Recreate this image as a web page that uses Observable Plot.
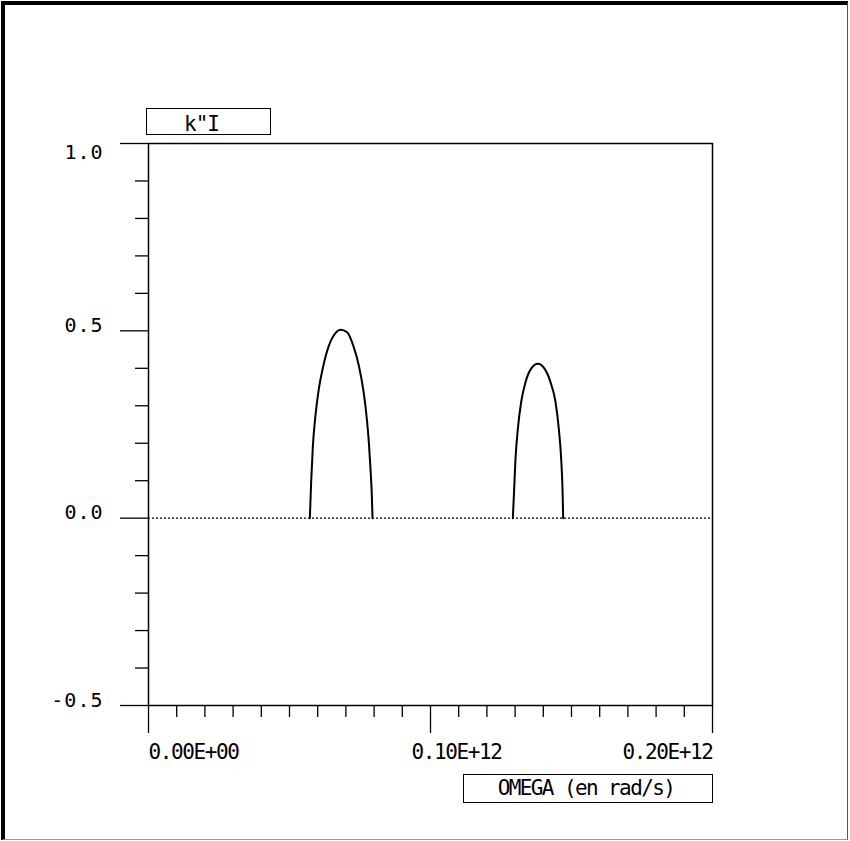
<!DOCTYPE html>
<html><head><meta charset="utf-8">
<script src="https://cdn.jsdelivr.net/npm/d3@7"></script>
<script src="https://cdn.jsdelivr.net/npm/@observablehq/plot@0.6"></script>
<style>
html,body{margin:0;padding:0;background:#fff;}
#wrap{position:relative;width:850px;height:841px;overflow:hidden;background:#fff;}
#wrap svg{position:absolute;left:0;top:0;}
#border{position:absolute;left:1px;top:1px;width:847px;height:839px;border-left:4px solid #000;border-top:4px solid #000;border-right:1px solid #555;border-bottom:1px solid #999;box-sizing:border-box;pointer-events:none;}
.box{position:absolute;border:1.5px solid #000;box-sizing:border-box;font-family:"DejaVu Sans Mono",monospace;color:#000;background:#fff;}
.box span{position:absolute;left:0;right:0;text-align:center;white-space:pre;line-height:20px;}
</style></head><body><div id="wrap"></div>
<script>
// omega in units of 1e12 rad/s, k''I values
const OMEGA_UNIT = 1e12;
const hump1Omega = [0.05721, 0.05768, 0.05827, 0.05922, 0.06040, 0.06194, 0.06394, 0.06572, 0.06809, 0.07045, 0.07258, 0.07459, 0.07612, 0.07730, 0.07813, 0.07872, 0.07920, 0.07943];
const hump1K     = [0.000,   0.096,   0.190,   0.275,   0.345,   0.405,   0.460,   0.488,   0.503,   0.496,   0.461,   0.407,   0.345,   0.274,   0.203,   0.132,   0.060,   0.000];
const hump2Omega = [0.12920, 0.12967, 0.13014, 0.13097, 0.13215, 0.13369, 0.13570, 0.13806, 0.14043, 0.14255, 0.14433, 0.14551, 0.14634, 0.14681, 0.14705];
const hump2K     = [0.000,   0.078,   0.158,   0.238,   0.310,   0.363,   0.399,   0.412,   0.399,   0.363,   0.310,   0.238,   0.158,   0.078,   0.000];

const yMajor = [-0.5, 0.0, 0.5, 1.0];
const yMajorLabels = ["-0.5", "0.0", "0.5", "1.0"];
const yMinor = [-0.4, -0.3, -0.2, -0.1, 0.1, 0.2, 0.3, 0.4, 0.6, 0.7, 0.8, 0.9];
const xMajor = [0, 0.1, 0.2];
const xMajorLabels = ["0.00E+00", "0.10E+12", "0.20E+12"];
const xMinor = [0.01,0.02,0.03,0.04,0.05,0.06,0.07,0.08,0.09,0.11,0.12,0.13,0.14,0.15,0.16,0.17,0.18,0.19];
const yTitle = 'k"I';
const xTitle = "OMEGA (en rad/s)";

const rows = [];
hump1Omega.forEach((o, i) => rows.push({hump: 1, omega: o * OMEGA_UNIT, k: hump1K[i]}));
hump2Omega.forEach((o, i) => rows.push({hump: 2, omega: o * OMEGA_UNIT, k: hump2K[i]}));
const yLab = yMajor.map((v, i) => ({v, label: yMajorLabels[i]}));
const xLab = xMajor.map((v, i) => ({v: v * OMEGA_UNIT, label: xMajorLabels[i]}));

const yFont = {fontSize: 20, fill: "#000"};
const xFont = {fontSize: 21, fill: "#000"};

const chart = Plot.plot({
  width: 850, height: 841,
  marginLeft: 148, marginRight: 138, marginTop: 143, marginBottom: 136,
  style: {fontFamily: "DejaVu Sans Mono, monospace", background: "transparent", overflow: "visible"},
  x: {domain: [0, 0.2 * OMEGA_UNIT], label: null},
  y: {domain: [-0.5, 1.0], label: null},
  marks: [
    Plot.ruleY([0], {stroke: "#000", strokeWidth: 1.2, strokeDasharray: "2,2"}),
    Plot.line(rows, {x: "omega", y: "k", z: "hump", curve: "monotone-x", stroke: "#000", strokeWidth: 2}),
    Plot.axisY(yMinor, {anchor: "left", tickSize: 13, tickFormat: () => "", label: null, stroke: "#000", strokeWidth: 1.3}),
    Plot.axisY(yMajor, {anchor: "left", tickSize: 28, tickFormat: () => "", label: null, stroke: "#000", strokeWidth: 1.3}),
    Plot.axisX(xMinor.map(v => v * OMEGA_UNIT), {anchor: "bottom", tickSize: 12, tickFormat: () => "", label: null, stroke: "#000", strokeWidth: 1.3}),
    Plot.axisX(xMajor.map(v => v * OMEGA_UNIT), {anchor: "bottom", tickSize: 28, tickFormat: () => "", label: null, stroke: "#000", strokeWidth: 1.3}),
    Plot.frame({stroke: "#000", strokeWidth: 1.5}),
    Plot.text(yLab.filter(d => d.v !== 1.0), {y: "v", text: "label", frameAnchor: "left", textAnchor: "end", lineAnchor: "bottom", dx: -45, dy: 1, ...yFont}),
    Plot.text(yLab.filter(d => d.v === 1.0), {y: "v", text: "label", frameAnchor: "left", textAnchor: "end", lineAnchor: "bottom", dx: -45, dy: 15, ...yFont}),
    Plot.text(xLab.slice(0, 1), {x: "v", text: "label", frameAnchor: "bottom", textAnchor: "start", lineAnchor: "bottom", dy: 53, ...xFont}),
    Plot.text(xLab.slice(1, 2), {x: "v", text: "label", frameAnchor: "bottom", textAnchor: "start", lineAnchor: "bottom", dx: -19, dy: 53, ...xFont}),
    Plot.text(xLab.slice(2, 3), {x: "v", text: "label", frameAnchor: "bottom", textAnchor: "end", lineAnchor: "bottom", dy: 53, ...xFont})
  ]
});
// letter-spacing on text to mimic the plotter's character cells
chart.querySelectorAll("text").forEach(t => {
  const fs = parseFloat(t.closest("g").getAttribute("font-size") || "0");
  if (fs === 20) t.style.letterSpacing = "1px";
  if (fs === 21) t.style.letterSpacing = "-1.4px";
});

const wrap = document.getElementById("wrap");
wrap.appendChild(chart);

const b1 = document.createElement("div");
b1.className = "box";
Object.assign(b1.style, {left: "146px", top: "108px", width: "125px", height: "27px", fontSize: "21px"});
const s1 = document.createElement("span"); s1.textContent = yTitle; s1.style.top = "5px"; s1.style.right = "14px"; s1.style.letterSpacing = "-1px";
b1.appendChild(s1); wrap.appendChild(b1);

const b2 = document.createElement("div");
b2.className = "box";
Object.assign(b2.style, {left: "463px", top: "774px", width: "250px", height: "29px", fontSize: "21px"});
const s2 = document.createElement("span"); s2.textContent = xTitle; s2.style.top = "3px"; s2.style.right = "4px"; s2.style.letterSpacing = "-1.6px";
b2.appendChild(s2); wrap.appendChild(b2);

const border = document.createElement("div");
border.id = "border";
wrap.appendChild(border);
</script>
</body></html>
